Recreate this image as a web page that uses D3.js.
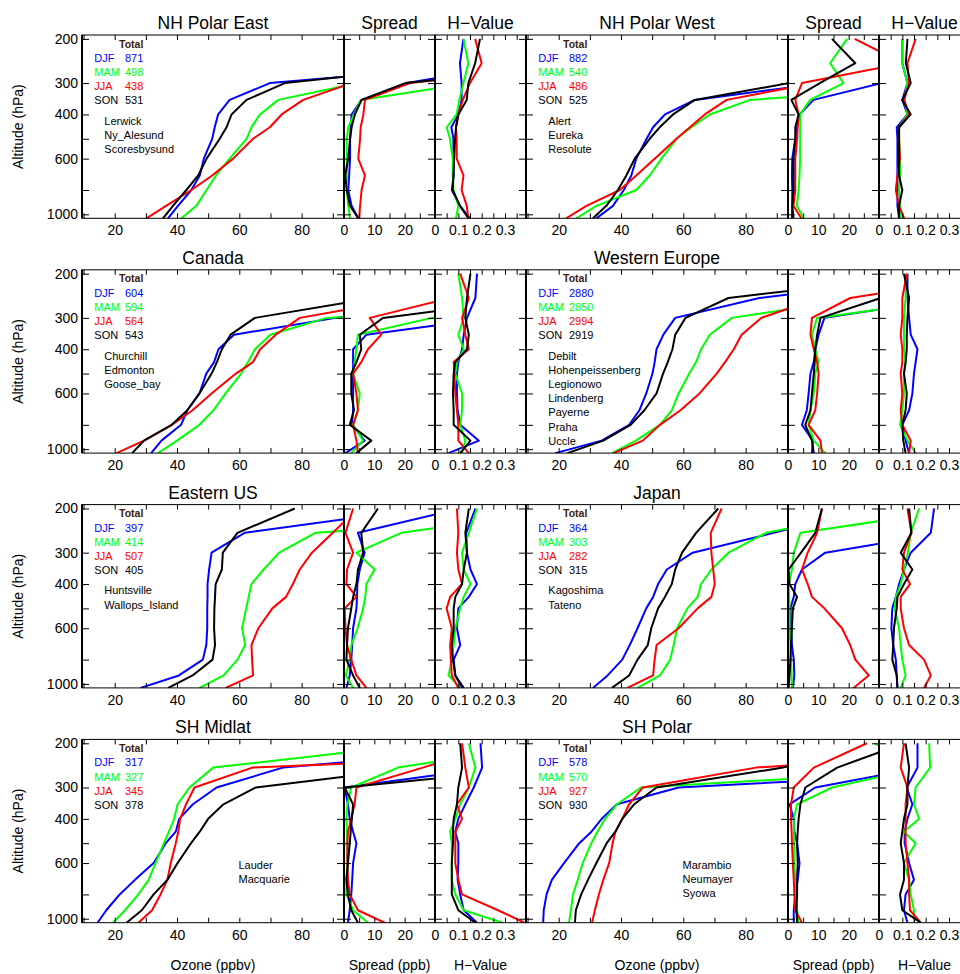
<!DOCTYPE html>
<html><head><meta charset="utf-8">
<script src="https://cdn.jsdelivr.net/npm/d3@7"></script>
<style>
body{margin:0;background:#fff}
svg{display:block}
text{font-family:"Liberation Sans",Arial,Helvetica,sans-serif}
</style>
</head><body>
<svg id="c" width="960" height="974"></svg>
<script>
// ---------------- data ----------------
const regions = ["NH Polar East","NH Polar West","Canada","Western Europe","Eastern US","Japan","SH Midlat","SH Polar"];
const seasons = ["DJF","MAM","JJA","SON"];
// pressure levels (hPa) for every profile, surface first
const levels = [1037, 925, 800, 700, 600, 500, 450, 400, 350, 300, 250, 200];
const totals = [
  [871,498,438,531],[882,540,486,525],[604,594,564,543],[2880,2850,2994,2919],
  [397,414,507,405],[364,303,282,315],[317,327,345,378],[578,570,927,930]];
const stations = [
  ["Lerwick","Ny_Alesund","Scoresbysund"],
  ["Alert","Eureka","Resolute"],
  ["Churchill","Edmonton","Goose_bay"],
  ["Debilt","Hohenpeissenberg","Legionowo","Lindenberg","Payerne","Praha","Uccle"],
  ["Huntsville","Wallops_Island"],
  ["Kagoshima","Tateno"],
  ["Lauder","Macquarie"],
  ["Marambio","Neumayer","Syowa"]];
const pressureTicks = [200,300,400,500,600,800,1000];
const pressureLabels = [200,300,400,600,1000];
const ozoneLabels = [20,40,60,80];
const spreadLabels = [0,10,20];
const hLabels = [0,0.1,0.2,0.3];

// Ozone (ppbv): [region][season][level]
const ozone = [
 [[37.1,40.3,44.6,47.3,48.6,51.3,52.1,53.2,56.9,69.8,145,170],
  [41.4,46.2,49.5,52.5,56.9,62.3,63.9,66.6,72.5,98,150,170],
  [30.2,36.5,44.6,51.3,58.0,64.4,69.8,73.6,80.5,96,150,170],
  [35.5,38.7,43.0,46.8,49.5,53.7,55.9,57.5,62.3,74.6,135,170]],
 [[32.1,37.4,40.9,43.3,44.9,48.2,50.3,54.1,63.7,105,150,180],
  [25.7,32.1,44.9,49.2,53.0,57.8,62.6,68.5,81.4,160,200,220],
  [22.4,28.9,39.6,44.9,50.8,57.8,62.1,66.9,73.9,102,130,160],
  [31.0,35.3,39.0,41.7,44.4,49.2,52.4,56.7,63.7,94,120,150]],
 [[31.7,35,41.3,43.3,47.2,49.4,51.9,53.3,58.3,91,140,170],
  [33.9,40,47.2,51.7,55.6,60.6,62.8,65,70,88,200,220],
  [20.6,29.4,38.3,45,51.1,58.9,64.4,66.7,71.7,79.4,115,150],
  [25.6,29.4,38.3,43.3,47.2,51.1,52.8,54.4,57.2,65,103,130]],
 [[18.9,33.8,42.6,45.9,48.1,50.1,50.8,51.4,53.6,57.4,84.4,150],
  [37.1,44.8,52.5,56.3,58.5,61.9,64.1,65.7,68.5,75.6,118,160],
  [37.6,47,52.5,59.1,65.2,70.7,73.4,76.2,78.7,85,103.5,140],
  [22.8,34.3,43.1,47.5,51.4,53.5,55,56.5,57.4,60.7,74.5,140]],
 [[28.3,40.6,48.3,49.4,49.7,49.7,49.8,49.8,50.3,51.1,61.7,118.6],
  [47.2,55,59.4,61.9,60.9,62.2,63,63.9,67.8,72.8,84.4,200],
  [55.6,64.4,64.1,63.9,66.1,70.6,75,77.2,79.4,83.3,90,98],
  [37.2,45,51.4,52.2,51.9,52,52.2,52.4,54.4,54.7,59.4,77.8]],
 [[31,35.7,40.4,42.8,45.3,48.1,50.3,51.9,54.7,63,89,120],
  [45.3,52.5,55.8,56.9,58,61.3,64.6,65.7,69,74.5,86.6,126],
  [42,50.3,50.8,51.4,58.5,64.6,69,70.1,69.6,69,68.8,72.3],
  [37.1,42.6,45.3,48.6,49.7,51.9,54.1,56.3,57.4,59.6,64.1,71.2]],
 [[14.5,17.3,21.6,26.5,32.5,36.4,39.6,40.7,45.1,52.7,74,163],
  [19.5,23.3,27.6,30.9,33.1,35.8,37.4,39.1,40.2,44,51.6,120],
  [27.6,32,34.7,36.9,38,39.6,40.4,41,42.9,45.6,64.2,250],
  [23.8,28.7,32.5,36.9,40.2,44.5,47.3,50,54.9,65.3,118,160]],
 [[15,15.2,16.1,17.8,21.7,26.6,30.5,33.8,38.7,58.5,180,250],
  [23.3,23.9,24.6,26.1,27.7,30.5,32.4,34.9,38.7,46.4,156,200],
  [30.7,31.6,32.9,34.3,36.2,37.3,38.2,40.4,42.6,47,83.3,199],
  [25.2,25.5,27.2,29.4,32.1,35.4,38.2,40.4,44.2,51.4,92,120]]
];
// Spread (ppb)
const spread = [
 [[4.7,2.5,1.4,1.7,2.0,2.0,2.2,2.5,5.8,20.7,60,60],
  [2.0,1.4,0.9,0.9,0.9,0.9,1.4,3.3,5.5,41.5,60,60],
  [5.0,5.3,5.8,6.9,4.7,5.3,5.5,6.4,6.9,21.8,80,80],
  [4.7,2.0,0.9,0.4,1.4,2.0,2.5,3.6,5.8,20.2,85,85]],
 [[1.3,1.4,1.4,1.3,1.4,2.4,3.0,3.8,8.4,31,45,45],
  [5.2,2.9,3.5,3.8,4.0,4.0,4.0,4.0,7.3,18.3,13.9,19.5],
  [4.4,1.8,2.4,2.4,2.4,3.0,3.2,3.5,2.4,4.6,38,22],
  [1.8,1.4,1.8,1.8,1.8,2.4,2.4,3.5,1.1,10.5,22.2,14.5]],
 [[0.5,6.8,2.6,3.0,3.0,3.0,3.0,3.0,7.4,49,80,80],
  [2.4,6.3,3.0,4.6,5.2,3.0,3.5,4.1,4.6,29,80,80],
  [4.6,4.1,3.0,4.6,4.1,3.0,5.7,7.9,12.3,8.5,35,50],
  [4.1,9.0,1.9,3.3,2.4,2.4,4.1,5.7,5.2,12.9,65,80]],
 [[7.9,8.2,4.6,6.2,6.8,7.4,8.5,9.0,10.1,12,55,60],
  [12.3,8.5,6.8,7.4,8.5,9.0,10.1,9.0,7.9,9.6,58,60],
  [11.2,10.7,6.8,9.0,9.6,10.1,9.6,8.5,7.4,7.9,20.5,73],
  [8.5,7.9,5.7,7.4,7.9,8.5,8.8,9.0,9.6,10.7,30.6,45]],
 [[0.8,1.9,2.4,2.7,3.0,4.1,4.3,4.4,5.2,6.8,4.6,38.5],
  [3.0,0.6,1.9,2.4,4.5,6.3,7.0,7.4,10.1,4.1,18.9,76],
  [7.4,4.1,2.4,1.0,0.5,0.2,4.1,0.8,1.0,3.0,0.5,3.0],
  [5.2,3.0,0.8,1.0,1.3,2.4,3.0,4.1,4.6,6.3,5.7,11.2]],
 [[1.6,2.1,1.9,1.3,1.0,0.8,1.9,2.4,4.6,12.3,52,60],
  [1.3,1.2,1.0,0.8,0.5,0.5,0.4,0.2,1.3,1.9,4.1,58],
  [21.6,26.6,22.2,20.5,17.8,12,7.9,6.5,4.6,6.5,9.6,11.2],
  [0.2,0.5,0.8,1.0,1.3,1.6,3.0,0.5,0.2,4.3,9.0,11.2]],
 [[1.3,1.9,2.4,2.7,3.0,4.1,3.0,1.9,1.3,0.2,48.7,60],
  [7.9,3.0,0.8,0.8,1.1,1.1,1.0,0.8,1.1,2.4,17.8,68],
  [13.4,4.6,1.9,1.3,1.1,1.1,1.3,2.4,3.5,4.1,26,51],
  [4.6,2.4,1.3,0.8,1.3,1.9,2.2,2.6,3.0,0.2,66,80]],
 [[1.9,1.9,2.4,3.2,3.8,3.0,2.1,1.9,0.5,9.0,43.8,50],
  [3.5,3.0,2.4,2.4,2.1,2.0,1.9,1.9,3.0,14.5,44,28.5],
  [4.6,2.4,2.1,1.9,1.6,1.3,1.2,1.0,1.0,1.9,8.5,26],
  [3.0,2.8,3.0,3.0,3.2,3.0,3.2,3.5,4.1,5.7,16.2,38.3]]
];
// H-value
const hval = [
 [[0.15,0.107,0.072,0.08,0.079,0.079,0.07,0.1,0.114,0.114,0.107,0.122],
  [0.09,0.1,0.079,0.076,0.076,0.064,0.05,0.093,0.104,0.122,0.143,0.122],
  [0.143,0.136,0.114,0.122,0.093,0.093,0.09,0.1,0.119,0.15,0.2,0.172],
  [0.143,0.107,0.076,0.079,0.082,0.086,0.09,0.1,0.136,0.143,0.172,0.193]],
 [[0.086,0.079,0.079,0.079,0.079,0.079,0.076,0.122,0.1,0.122,0.1,0.1],
  [0.093,0.09,0.086,0.09,0.09,0.086,0.086,0.122,0.108,0.122,0.1,0.1],
  [0.108,0.086,0.072,0.079,0.09,0.086,0.086,0.129,0.108,0.129,0.122,0.157],
  [0.086,0.086,0.1,0.086,0.086,0.086,0.086,0.136,0.1,0.136,0.115,0.122]],
 [[0.058,0.188,0.108,0.097,0.094,0.094,0.1,0.116,0.123,0.137,0.173,0.18],
  [0.116,0.13,0.108,0.116,0.116,0.087,0.094,0.123,0.1,0.123,0.116,0.1],
  [0.145,0.1,0.1,0.094,0.087,0.083,0.08,0.145,0.13,0.116,0.145,0.108],
  [0.108,0.152,0.08,0.08,0.077,0.08,0.087,0.137,0.145,0.13,0.137,0.152]],
 [[0.129,0.114,0.1,0.129,0.143,0.15,0.157,0.165,0.136,0.129,0.122,0.122],
  [0.157,0.122,0.09,0.1,0.107,0.107,0.114,0.107,0.107,0.107,0.114,0.114],
  [0.129,0.136,0.1,0.093,0.1,0.093,0.1,0.1,0.093,0.1,0.1,0.119],
  [0.114,0.104,0.1,0.114,0.119,0.107,0.114,0.119,0.119,0.122,0.129,0.107]],
 [[0.116,0.087,0.08,0.108,0.094,0.1,0.145,0.18,0.152,0.137,0.134,0.173],
  [0.108,0.058,0.072,0.08,0.087,0.108,0.123,0.152,0.123,0.116,0.145,0.18],
  [0.1,0.072,0.068,0.065,0.072,0.05,0.065,0.116,0.1,0.094,0.1,0.094],
  [0.123,0.087,0.077,0.072,0.08,0.08,0.087,0.116,0.123,0.137,0.13,0.145]],
 [[0.079,0.076,0.072,0.061,0.053,0.057,0.072,0.086,0.107,0.136,0.222,0.236],
  [0.093,0.114,0.1,0.093,0.086,0.067,0.072,0.093,0.107,0.124,0.136,0.172],
  [0.193,0.222,0.193,0.129,0.107,0.093,0.093,0.133,0.1,0.107,0.139,0.122],
  [0.079,0.076,0.057,0.061,0.064,0.076,0.079,0.107,0.143,0.093,0.139,0.129]],
 [[0.18,0.123,0.108,0.097,0.1,0.1,0.087,0.1,0.13,0.166,0.202,0.195],
  [0.289,0.123,0.087,0.072,0.072,0.072,0.065,0.087,0.108,0.145,0.173,0.145],
  [0.383,0.27,0.116,0.1,0.087,0.087,0.087,0.116,0.094,0.145,0.13,0.116],
  [0.173,0.1,0.072,0.072,0.072,0.077,0.077,0.08,0.094,0.1,0.116,0.108]],
 [[0.122,0.107,0.114,0.15,0.129,0.11,0.11,0.122,0.143,0.119,0.165,0.165],
  [0.15,0.15,0.136,0.129,0.107,0.157,0.107,0.172,0.15,0.157,0.219,0.215],
  [0.179,0.133,0.129,0.129,0.122,0.114,0.114,0.114,0.114,0.122,0.093,0.107],
  [0.179,0.1,0.09,0.107,0.107,0.093,0.1,0.107,0.122,0.122,0.129,0.114]]
];

// ---------------- drawing ----------------
const colors = ["#0000ff","#00ff00","#ff0000","#000000"];
const FONT = '"Liberation Sans",Arial,Helvetica,sans-serif';
const svg = d3.select("#c");
const colOff = [0, 444];
const rowTop = r => 35 + r * 234.8;
const PH = 183.3;
let clipId = 0;

function styleAxis(g, size){
  g.attr("font-family", FONT).attr("font-size", size);
  g.select(".domain").remove();
  g.selectAll(".tick line").attr("stroke", "#000").attr("stroke-width", 1);
  g.selectAll(".tick text").attr("fill", "#000");
}

regions.forEach((name, i) => {
  const r = Math.floor(i / 2), c = i % 2;
  const top = rowTop(r), bot = top + PH, ox = colOff[c];
  const y = d3.scaleLog().domain([1037, 193]).range([bot, top]);
  const subs = [
    {x: d3.scaleLinear().domain([9.5, 93.6]).range([ox + 82, ox + 344]), data: ozone[i],
     ticks: d3.range(10, 91, 10), labels: ozoneLabels, title: name},
    {x: d3.scaleLinear().domain([0, 30]).range([ox + 344, ox + 435]), data: spread[i],
     ticks: d3.range(0, 31, 5), labels: spreadLabels, title: "Spread"},
    {x: d3.scaleLinear().domain([0, 0.39]).range([ox + 435, ox + 526]), data: hval[i],
     ticks: d3.range(0, 7.5).map(k => k * 0.05), labels: hLabels, title: "H\u2212Value"}
  ];
  subs.forEach((s, si) => {
    const [x0, x1] = s.x.range();
    const id = "clip" + (clipId++);
    svg.append("clipPath").attr("id", id).append("rect")
      .attr("x", x0).attr("y", top).attr("width", x1 - x0).attr("height", PH);
    const line = d3.line().x(d => s.x(d[0])).y(d => y(d[1]));
    const gl = svg.append("g").attr("clip-path", `url(#${id})`);
    s.data.forEach((vals, k) => {
      gl.append("path")
        .attr("d", line(vals.map((v, j) => [v, levels[j]])))
        .attr("fill", "none").attr("stroke", colors[k])
        .attr("stroke-width", 2).attr("stroke-linejoin", "round");
    });
    // ticks (inward)
    styleAxis(svg.append("g").attr("transform", `translate(0,${bot})`)
      .call(d3.axisBottom(s.x).tickValues(s.ticks).tickSize(-5).tickFormat("")), 14);
    styleAxis(svg.append("g").attr("transform", `translate(0,${top})`)
      .call(d3.axisTop(s.x).tickValues(s.ticks).tickSize(-5).tickFormat("")), 14);
    styleAxis(svg.append("g").attr("transform", `translate(${x0},0)`)
      .call(d3.axisLeft(y).tickValues(pressureTicks).tickSize(-7).tickFormat("")), 14);
    styleAxis(svg.append("g").attr("transform", `translate(${x1},0)`)
      .call(d3.axisRight(y).tickValues(pressureTicks).tickSize(-7).tickFormat("")), 14);
    // labels
    styleAxis(svg.append("g").attr("transform", `translate(0,${bot})`)
      .call(d3.axisBottom(s.x).tickValues(s.labels).tickSize(0).tickPadding(7)
        .tickFormat(d3.format("~g"))), 14);
    // frame
    svg.append("rect").attr("x", x0).attr("y", top).attr("width", x1 - x0).attr("height", PH)
      .attr("fill", "none").attr("stroke", "#000").attr("stroke-width", 1);
    svg.append("line").attr("x1", x0).attr("x2", x0).attr("y1", top).attr("y2", bot)
      .attr("stroke", "#000").attr("stroke-width", 2);
    svg.append("line").attr("x1", x1).attr("x2", x1).attr("y1", top).attr("y2", bot)
      .attr("stroke", "#000").attr("stroke-width", 2);
    // title: region name every row, Spread / H-Value only on the first row
    if (si === 0 || r === 0) {
      svg.append("text").attr("x", (x0 + x1) / 2).attr("y", top - 6)
        .attr("text-anchor", "middle").attr("font-size", 17.5).attr("fill", "#000").text(s.title);
    }
    if (r === 3) {
      const t = ["Ozone (ppbv)", "Spread (ppb)", "H\u2212Value"][si];
      svg.append("text").attr("x", (x0 + x1) / 2).attr("y", 970)
        .attr("text-anchor", "middle").attr("font-size", 14).attr("fill", "#000").text(t);
    }
  });
  // y labels, left column only
  if (c === 0) {
    styleAxis(svg.append("g").attr("transform", `translate(${ox + 82},0)`)
      .call(d3.axisLeft(y).tickValues(pressureLabels).tickSize(0).tickPadding(4)
        .tickFormat(d3.format("d"))), 14);
    svg.append("text").attr("transform", `translate(23,${(top + bot) / 2}) rotate(-90)`)
      .attr("text-anchor", "middle").attr("font-size", 14).attr("fill", "#000")
      .text("Altitude (hPa)");
  }
  // legend
  const L = ox + 82;
  svg.append("text").attr("x", L + 37).attr("y", top + 12.5).attr("font-size", 10.5)
    .attr("font-weight", "bold").attr("fill", "#401a0a").text("Total");
  seasons.forEach((sn, k) => {
    svg.append("text").attr("x", L + 12.3).attr("y", top + 27 + k * 14.1)
      .attr("font-size", 11).attr("fill", colors[k]).text(sn);
    svg.append("text").attr("x", L + 43).attr("y", top + 27 + k * 14.1)
      .attr("font-size", 11).attr("fill", colors[k]).text(totals[i][k]);
  });
  const lowStations = i >= 6;
  stations[i].forEach((st, j) => {
    svg.append("text")
      .attr("x", L + (lowStations ? 156.5 : 22.3))
      .attr("y", top + (lowStations ? 129.5 : 89.7) + j * 14.2)
      .attr("font-size", 11).attr("fill", "#000").text(st);
  });
});
</script>
</body></html>
